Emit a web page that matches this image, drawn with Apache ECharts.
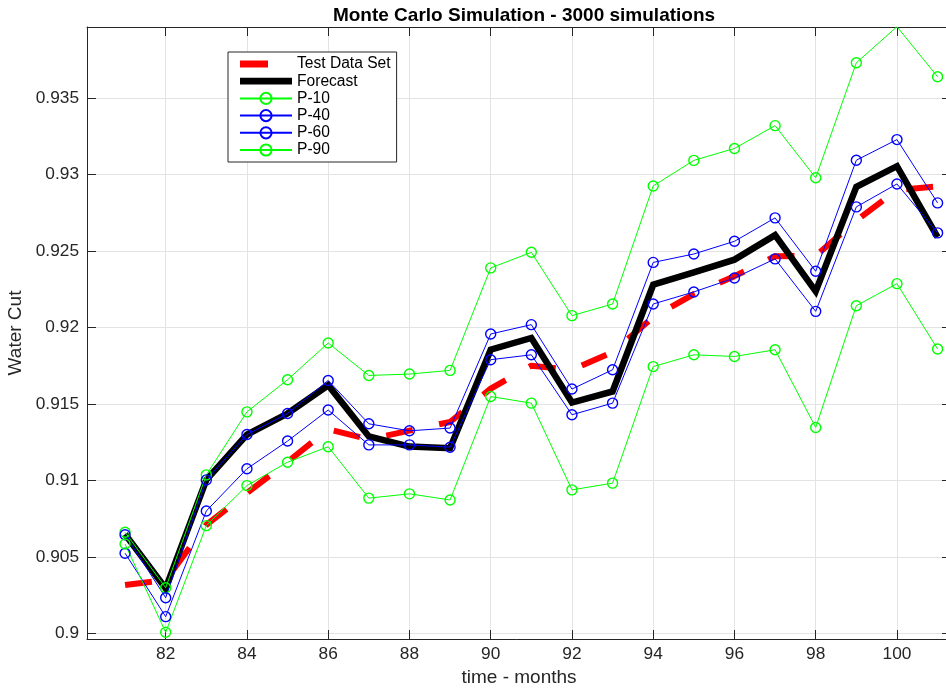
<!DOCTYPE html>
<html>
<head>
<meta charset="utf-8">
<script src="https://cdn.jsdelivr.net/npm/echarts@6/dist/echarts.min.js"></script>
<style>
  html, body { margin: 0; padding: 0; background: #fff; }
  #chart { width: 946px; height: 688px; }
</style>
</head>
<body>
<div id="chart"></div>
<script>
// Monthly water-cut results of the Monte Carlo run
const months = [81, 82, 83, 84, 85, 86, 87, 88, 89, 90, 91, 92, 93, 94, 95, 96, 97, 98, 99, 100, 101];
const testDataSet = [0.90316, 0.90349, 0.90709, 0.90917, 0.91121, 0.91334, 0.91268, 0.91325, 0.91382, 0.91600, 0.91750, 0.91723, 0.91838, 0.92068, 0.92218, 0.92335, 0.92465, 0.92469, 0.92698, 0.92898, 0.92922];
const forecast = [0.90648, 0.90294, 0.91003, 0.91300, 0.91437, 0.91622, 0.91287, 0.91221, 0.91210, 0.91854, 0.91931, 0.91509, 0.91581, 0.92279, 0.92360, 0.92443, 0.92603, 0.92236, 0.92919, 0.93054, 0.92590];
const p10 = [0.90661, 0.90298, 0.91036, 0.91448, 0.91658, 0.91898, 0.91686, 0.91695, 0.91719, 0.92389, 0.92491, 0.92077, 0.92153, 0.92925, 0.93092, 0.93170, 0.93319, 0.92978, 0.93730, 0.93966, 0.93639];
const p40 = [0.90645, 0.90233, 0.91003, 0.91300, 0.91437, 0.91653, 0.91370, 0.91324, 0.91342, 0.91957, 0.92018, 0.91597, 0.91723, 0.92425, 0.92480, 0.92563, 0.92716, 0.92367, 0.93093, 0.93228, 0.92814];
const p60 = [0.90524, 0.90109, 0.90800, 0.91076, 0.91257, 0.91460, 0.91232, 0.91232, 0.91217, 0.91789, 0.91821, 0.91429, 0.91505, 0.92153, 0.92232, 0.92323, 0.92448, 0.92105, 0.92788, 0.92938, 0.92618];
const p90 = [0.90584, 0.90007, 0.90704, 0.90966, 0.91119, 0.91220, 0.90884, 0.90912, 0.90872, 0.91548, 0.91505, 0.90938, 0.90982, 0.91744, 0.91821, 0.91810, 0.91854, 0.91346, 0.92142, 0.92286, 0.91859];

// Tick positions
const xTicks = [82, 84, 86, 88, 90, 92, 94, 96, 98, 100];
const yTicks = [0.9, 0.905, 0.91, 0.915, 0.92, 0.925, 0.93, 0.935];

const FONT = '"Liberation Sans", Arial, Helvetica, sans-serif';
const AXIS_COLOR = '#262626';
const GRID_COLOR = '#e3e3e3';

const pairs = vals => months.map((m, i) => [m, vals[i]]);

// Legend glyphs for the thick lines: a bar inside a 52x14 box
// (tiny corner specks pin the box so the bar keeps its place and size)
const BOX_PINS = ' M0,0h0.05v0.05h-0.05z M51.95,13.95h0.05v0.05h-0.05z';
const dashIcon = 'path://M0,3.6h28v6.8h-28z' + BOX_PINS;
const solidIcon = 'path://M0,3.6h52v6.8h-52z' + BOX_PINS;

function pctSeries(name, vals, color) {
  return {
    name: name,
    type: 'line',
    data: pairs(vals),
    symbol: 'circle',
    symbolSize: 10,
    showSymbol: true,
    lineStyle: { color: color, width: 1 },
    itemStyle: { color: 'rgba(255,255,255,0)', borderColor: color, borderWidth: 1.4 },
    emphasis: { disabled: true }
  };
}

const xRange = { min: 80.063, max: 101.33 };
const yRange = { min: 0.89963, max: 0.93964 };

const chart = echarts.init(document.getElementById('chart'), null, { renderer: 'canvas' });
chart.setOption({
  animation: false,
  backgroundColor: '#ffffff',
  title: {
    text: 'Monte Carlo Simulation - 3000 simulations',
    left: 519,
    textAlign: 'center',
    top: 1,
    textStyle: { fontFamily: FONT, fontSize: 19, fontWeight: 'bold', color: '#000' }
  },
  grid: { left: 87, top: 27, width: 864, height: 612, outerBoundsMode: 'none', containLabel: false },
  legend: {
    orient: 'vertical',
    left: 228,
    top: 52,
    padding: [4, 6, 4, 11],
    itemWidth: 52,
    itemHeight: 14,
    itemGap: 1.2,
    backgroundColor: '#ffffff',
    borderColor: AXIS_COLOR,
    borderWidth: 1,
    borderRadius: 0,
    textStyle: { fontFamily: FONT, fontSize: 15.6, color: '#000', lineHeight: 16 },
    data: [
      { name: 'Test Data Set', icon: dashIcon, itemStyle: { color: '#ff0000', borderWidth: 0 } },
      { name: 'Forecast', icon: solidIcon, itemStyle: { color: '#000000', borderWidth: 0 } },
      'P-10', 'P-40', 'P-60', 'P-90'
    ]
  },
  xAxis: [
    {
      type: 'value',
      position: 'bottom',
      min: xRange.min,
      max: xRange.max,
      name: 'time - months',
      nameLocation: 'middle',
      nameGap: 26,
      nameTextStyle: { fontFamily: FONT, fontSize: 19, color: AXIS_COLOR },
      axisLine: { show: true, lineStyle: { color: AXIS_COLOR, width: 1 } },
      axisTick: { show: true, inside: true, length: 9, customValues: xTicks, lineStyle: { color: AXIS_COLOR } },
      axisLabel: { show: true, margin: 7, customValues: xTicks, fontFamily: FONT, fontSize: 17.3, color: AXIS_COLOR },
      splitLine: { show: true, lineStyle: { color: GRID_COLOR, width: 1 } }
    },
    {
      type: 'value',
      position: 'top',
      min: xRange.min,
      max: xRange.max,
      axisLine: { show: true, lineStyle: { color: AXIS_COLOR, width: 1 } },
      axisTick: { show: true, inside: true, length: 9, customValues: xTicks, lineStyle: { color: AXIS_COLOR } },
      axisLabel: { show: false },
      splitLine: { show: false }
    }
  ],
  yAxis: [
    {
      type: 'value',
      position: 'left',
      min: yRange.min,
      max: yRange.max,
      name: 'Water Cut',
      nameLocation: 'middle',
      nameGap: 51,
      nameTextStyle: { fontFamily: FONT, fontSize: 19, color: AXIS_COLOR },
      axisLine: { show: true, lineStyle: { color: AXIS_COLOR, width: 1 } },
      axisTick: { show: true, inside: true, length: 9, customValues: yTicks, lineStyle: { color: AXIS_COLOR } },
      axisLabel: {
        show: true, margin: 8, customValues: yTicks, fontFamily: FONT, fontSize: 17.3, color: AXIS_COLOR,
        formatter: v => String(+(+v).toFixed(3))
      },
      splitLine: { show: true, lineStyle: { color: GRID_COLOR, width: 1 } }
    },
    {
      type: 'value',
      position: 'right',
      min: yRange.min,
      max: yRange.max,
      axisLine: { show: true, lineStyle: { color: AXIS_COLOR, width: 1 } },
      axisTick: { show: true, inside: true, length: 9, customValues: yTicks, lineStyle: { color: AXIS_COLOR } },
      axisLabel: { show: false },
      splitLine: { show: false }
    }
  ],
  series: [
    {
      name: 'Test Data Set',
      type: 'line',
      data: pairs(testDataSet),
      showSymbol: false,
      symbol: 'none',
      lineStyle: { color: '#ff0000', width: 6, type: [27, 27], cap: 'butt' },
      itemStyle: { color: '#ff0000' },
      emphasis: { disabled: true }
    },
    {
      name: 'Forecast',
      type: 'line',
      data: pairs(forecast),
      showSymbol: false,
      symbol: 'none',
      lineStyle: { color: '#000000', width: 6.5, join: 'miter' },
      itemStyle: { color: '#000000' },
      emphasis: { disabled: true }
    },
    pctSeries('P-10', p10, '#00ff00'),
    pctSeries('P-40', p40, '#0000ff'),
    pctSeries('P-60', p60, '#0000ff'),
    pctSeries('P-90', p90, '#00ff00')
  ]
});
</script>
</body>
</html>
